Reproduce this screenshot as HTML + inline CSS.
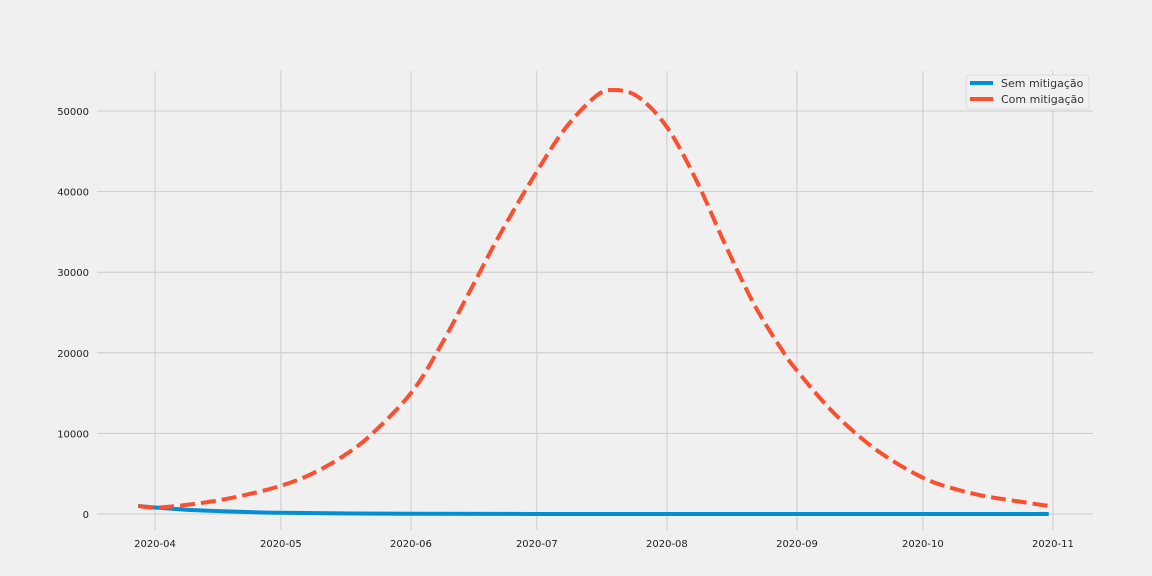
<!DOCTYPE html>
<html><head><meta charset="utf-8"><style>
body{margin:0;background:#f0f0f0;}
svg{display:block;font-family:"DejaVu Sans","Liberation Sans",sans-serif;}
</style></head><body>
<svg id="chart" width="1152" height="576" xmlns="http://www.w3.org/2000/svg">
<rect width="1152" height="576" fill="#f0f0f0"/>
<g id="grid"></g>
<g id="series"></g>
<g id="legend">
<rect x="966" y="75" width="123" height="34" fill="#f0f0f0" stroke="#dcdcdc" rx="2"/>
<line x1="970" y1="83" x2="993" y2="83" stroke="#008fd5" stroke-width="4"/>
<text x="1001" y="87" font-size="11" fill="#333">Sem mitigação</text>
<line x1="970" y1="99" x2="993" y2="99" stroke="#fc4f30" stroke-width="4"/>
<text x="1001" y="103" font-size="11" fill="#333">Com mitigação</text>
</g>
</svg>
<script>
const xTickLabels=["2020-04","2020-05","2020-06","2020-07","2020-08","2020-09","2020-10","2020-11"];
const xTickDays=[0,30,61,91,122,153,183,214];
const yTicks=[0,10000,20000,30000,40000,50000];
const comDays=[-4,0,7,14,21,30,37,44,51,61,68,75,82,91,98,105,109,115,122,129,136,143,150,153,160,167,174,183,190,197,204,213];
const comValues=[1000,800,1100,1600,2300,3500,4900,6900,9600,15000,20800,27600,34500,42500,48000,51800,52600,51800,48000,41400,33300,25800,19900,17800,13500,10000,7200,4500,3200,2300,1700,1000];
const semDays=[-4,0,7,14,21,30,44,61,91,122,213];
const semValues=[1000,800,550,380,260,150,70,30,5,1,0];
const NS="http://www.w3.org/2000/svg";
const x=d=>155+d*4.196;
const y=v=>514-v*0.00806;
const grid=document.getElementById('grid');
function mk(tag,attrs,parent){const e=document.createElementNS(NS,tag);for(const k in attrs)e.setAttribute(k,attrs[k]);parent.appendChild(e);return e;}
xTickDays.forEach((d,i)=>{
 const l=mk('line',{x1:x(d),x2:x(d),y1:71,y2:530,stroke:'#cbcbcb','stroke-width':1},grid);
 
 
 const t=mk('text',{x:x(d),y:547,'font-size':10,fill:'#222','text-anchor':'middle'},grid);
 t.textContent=xTickLabels[i];
 
 
});
yTicks.forEach(v=>{
 const l=mk('line',{x1:97,x2:1093,y1:y(v),y2:y(v),stroke:'#cbcbcb','stroke-width':1},grid);
 
 
 const t=mk('text',{x:89,y:y(v)+4,'font-size':10,fill:'#222','text-anchor':'end'},grid);
 t.textContent=String(v);
 
 
});
function smooth(ds,vs){
 const p=ds.map((d,i)=>[x(d),y(vs[i])]);
 let s=`M${p[0][0]},${p[0][1]}`;
 for(let i=0;i<p.length-1;i++){
  const p0=p[i-1]||p[i],p1=p[i],p2=p[i+1],p3=p[i+2]||p2;
  const c1=[p1[0]+(p2[0]-p0[0])/6,p1[1]+(p2[1]-p0[1])/6];
  const c2=[p2[0]-(p3[0]-p1[0])/6,p2[1]-(p3[1]-p1[1])/6];
  s+=` C${c1[0]},${c1[1]} ${c2[0]},${c2[1]} ${p2[0]},${p2[1]}`;
 }
 return s;
}
const ser=document.getElementById('series');
const sem=mk('path',{d:smooth(semDays,semValues),fill:'none',stroke:'#008fd5','stroke-width':4},ser);


const com=mk('path',{d:smooth(comDays,comValues),fill:'none',stroke:'#fc4f30','stroke-width':4,'stroke-dasharray':'15,6'},ser);


</script>
</body></html>
